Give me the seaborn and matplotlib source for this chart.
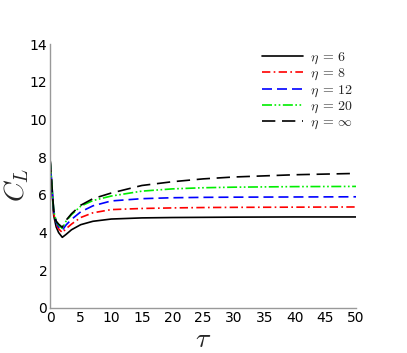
import matplotlib
matplotlib.use("Agg")
import matplotlib.pyplot as plt
import seaborn as sns
import pandas as pd

tau = [0, 0.3, 0.6, 1.0, 1.4, 2.0, 2.6, 3.5, 5, 7, 10, 15, 20, 25, 30, 40, 50]
cl_eta6 = [7.9, 6.3, 4.9, 4.3, 4.0, 3.75, 3.9, 4.15, 4.42, 4.6, 4.72, 4.78, 4.8, 4.81, 4.82, 4.83, 4.83]
cl_eta8 = [7.9, 6.4, 5.0, 4.45, 4.2, 4.0, 4.2, 4.45, 4.8, 5.05, 5.22, 5.28, 5.31, 5.33, 5.34, 5.35, 5.36]
cl_eta12 = [7.9, 6.5, 5.1, 4.55, 4.3, 4.12, 4.4, 4.7, 5.1, 5.42, 5.68, 5.8, 5.85, 5.87, 5.88, 5.89, 5.9]
cl_eta20 = [7.9, 6.5, 5.15, 4.6, 4.4, 4.22, 4.6, 4.95, 5.4, 5.7, 5.94, 6.2, 6.32, 6.38, 6.41, 6.44, 6.45]
cl_etainf = [7.9, 6.5, 5.15, 4.6, 4.45, 4.28, 4.65, 5.0, 5.45, 5.8, 6.1, 6.5, 6.7, 6.85, 6.95, 7.07, 7.14]

labels = [r'$\eta\:=\:6$', r'$\eta\:=\:8$', r'$\eta\:=\:12$', r'$\eta\:=\:20$', r'$\eta\:=\:\infty$']
series = [cl_eta6, cl_eta8, cl_eta12, cl_eta20, cl_etainf]
x_ticks = [0, 5, 10, 15, 20, 25, 30, 35, 40, 45, 50]
y_ticks = [0, 2, 4, 6, 8, 10, 12, 14]

sns.set_theme(style="white")
plt.rcParams['font.family'] = ['DejaVu Sans']
plt.rcParams['mathtext.fontset'] = 'cm'

colors = ['black', 'red', 'blue', '#00ee00', 'black']
styles = ['-', (0, (5, 2, 1, 2)), (0, (6, 3)), (0, (6, 1.5, 1, 1.5, 1, 1.5)), (0, (8, 4))]

fig = plt.figure(figsize=(4.07, 3.53), dpi=100)
ax = fig.add_axes([0.123, 0.1275, 0.752, 0.7475])

for vals, lab, c, ls in zip(series, labels, colors, styles):
    df = pd.DataFrame({'tau': tau, 'cl': vals})
    sns.lineplot(data=df, x='tau', y='cl', ax=ax, color=c, linestyle=ls, label=lab, linewidth=1.2)

ax.set_xlim(0, 50)
ax.set_ylim(0, 14)
ax.set_xticks(x_ticks)
ax.set_yticks(y_ticks)
ax.tick_params(axis='both', labelsize=10, length=0, pad=2, colors='black')
for s in ['top', 'right']:
    ax.spines[s].set_visible(False)
for s in ['left', 'bottom']:
    ax.spines[s].set_color('#999999')
    ax.spines[s].set_linewidth(1.0)

ax.set_xlabel(r'$\tau$', fontsize=20, labelpad=0)
ax.set_ylabel(r'$C_L$', fontsize=20)
ax.yaxis.set_label_coords(-0.063, 0.465)

leg = ax.legend(loc='upper right', bbox_to_anchor=(1.03, 1.025), frameon=False, fontsize=10,
                handlelength=2.9, labelspacing=0.0, handletextpad=0.5)

fig.savefig('out.png', dpi=100)
